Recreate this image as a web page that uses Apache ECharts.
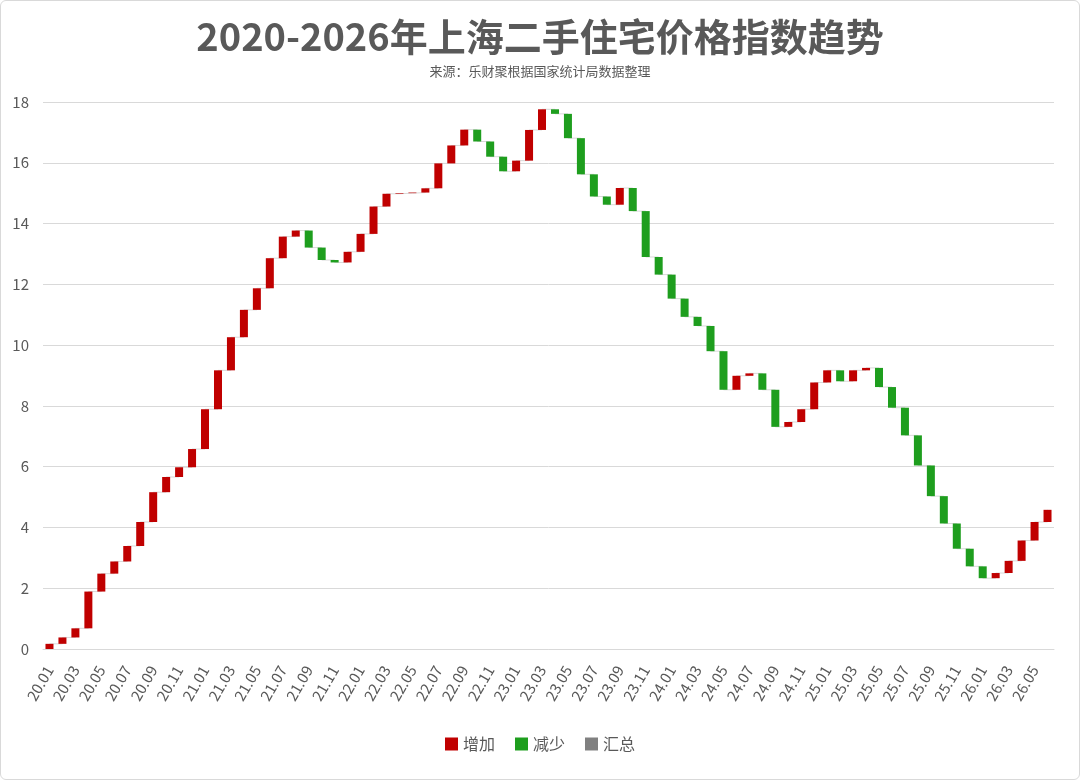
<!DOCTYPE html>
<html>
<head>
<meta charset="utf-8">
<script src="https://cdn.jsdelivr.net/npm/echarts@6/dist/echarts.min.js"></script>
<style>
  html, body { margin: 0; padding: 0; background: #fff; }
  #main { width: 1078px; height: 778px; border: 1px solid #d9d9d9; border-radius: 6px; }
</style>
</head>
<body>
<div id="main"></div>
<script>
// 月份 20.01 ~ 26.06
var months = [];
for (var y = 20; y <= 26; y++) {
	for (var m = 1; m <= 12; m++) {
		if (y == 26 && m > 6) break;
		months.push(y + '.' + (m < 10 ? '0' + m : m));
	}
}

// 累计值
var cumValues = [
	0.17, 0.38, 0.68, 1.89, 2.48, 2.88, 3.39, 4.18, 5.16, 5.66, 5.98, 6.58,
	7.89, 9.17, 10.26, 11.16, 11.87, 12.86, 13.57, 13.77, 13.21, 12.80, 12.72, 13.07,
	13.66, 14.56, 14.98, 15.00, 15.02, 15.16, 15.98, 16.57, 17.09, 16.70, 16.20, 15.72,
	16.07, 17.08, 17.76, 17.61, 16.81, 15.62, 14.89, 14.62, 15.17, 14.41, 12.90, 12.32,
	11.53, 10.93, 10.63, 9.80, 8.53, 8.99, 9.07, 8.53, 7.31, 7.47, 7.89, 8.77,
	9.17, 8.81, 9.17, 9.25, 8.62, 7.94, 7.03, 6.04, 5.03, 4.13, 3.30, 2.72,
	2.33, 2.50, 2.90, 3.57, 4.18, 4.58
];

var yTicks = [0, 2, 4, 6, 8, 10, 12, 14, 16, 18];

var baseData = [];
var upData = [];
var downData = [];
for (var i = 0; i < cumValues.length; i++) {
	var prev = i == 0 ? 0 : cumValues[i - 1];
	var cur = cumValues[i];
	baseData.push(Math.min(prev, cur));
	if (cur >= prev) {
		upData.push(+(cur - prev).toFixed(2));
		downData.push('-');
	} else {
		upData.push('-');
		downData.push(+(prev - cur).toFixed(2));
	}
}

var myChart = echarts.init(document.getElementById('main'));
var font = "'Noto Sans CJK SC', 'Microsoft YaHei', sans-serif";

var option = {
	animation: false,
	textStyle: { fontFamily: font },
	title: {
		text: '2020-2026年上海二手住宅价格指数趋势',
		subtext: '来源：乐财聚根据国家统计局数据整理',
		left: 'center',
		top: 12,
		itemGap: 9,
		textStyle: { fontSize: 38, fontWeight: 'bold', color: '#595959', fontFamily: font },
		subtextStyle: { fontSize: 13, color: '#595959', fontFamily: font }
	},
	legend: {
		bottom: 22,
		itemWidth: 13,
		itemHeight: 13,
		itemGap: 20,
		icon: 'rect',
		textStyle: { fontSize: 16, color: '#595959', fontFamily: font },
		data: ['增加', '减少', '汇总']
	},
	grid: {
		left: 42,
		right: 25,
		top: 101,
		bottom: 130
	},
	xAxis: {
		type: 'category',
		data: months,
		axisLine: { lineStyle: { color: '#d9d9d9' } },
		axisTick: { show: false },
		axisLabel: {
			interval: 1,
			rotate: 60,
			fontSize: 15,
			color: '#595959',
			margin: 18
		}
	},
	yAxis: {
		type: 'value',
		min: yTicks[0],
		max: yTicks[yTicks.length - 1],
		interval: 2,
		axisLine: { show: false },
		axisTick: { show: false },
		splitLine: { lineStyle: { color: '#d9d9d9' } },
		axisLabel: { fontSize: 15, color: '#595959', margin: 14 }
	},
	series: [
		{
			name: '连接线',
			type: 'line',
			step: 'end',
			data: cumValues,
			symbol: 'none',
			silent: true,
			z: 1,
			lineStyle: { color: '#d9d9d9', width: 1 }
		},
		{
			name: '基底',
			type: 'bar',
			stack: 'wf',
			data: baseData,
			itemStyle: { color: 'transparent' },
			barWidth: 8,
			z: 2
		},
		{
			name: '增加',
			type: 'bar',
			stack: 'wf',
			data: upData,
			itemStyle: { color: '#c00000' },
			barWidth: 8,
			z: 2
		},
		{
			name: '减少',
			type: 'bar',
			stack: 'wf',
			data: downData,
			itemStyle: { color: '#1e9e1e' },
			barWidth: 8,
			z: 2
		},
		{
			name: '汇总',
			type: 'bar',
			stack: 'wf',
			data: [],
			itemStyle: { color: '#808080' },
			barWidth: 8
		}
	]
};

myChart.setOption(option);
</script>
</body>
</html>
